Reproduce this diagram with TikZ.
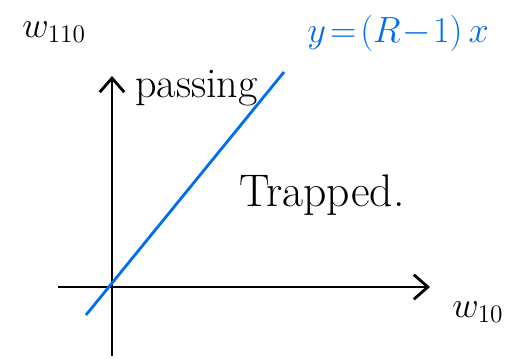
\documentclass[tikz,border=0pt]{standalone}
\usepackage{amsmath}
\usepackage{tikz}
\usetikzlibrary{arrows.meta}
\begin{document}
\begin{tikzpicture}[>={Straight Barb[length=8pt,width=14pt]}, x=0.02cm, y=-0.02cm, line width=1.6pt]
\useasboundingbox (0,0) rectangle (526,358);
\coordinate (y_top) at (112,76);
\coordinate (y_bot) at (112,356);
\coordinate (x_left) at (58,287);
\coordinate (x_right) at (430,287);
\coordinate (line_lo) at (86,315);
\coordinate (line_hi) at (284,72);
\node[name=w110, anchor=west] at (15,32) {\fontsize{22}{24}\selectfont $w_{110}$};
\node[name=line_eq, anchor=west, text={rgb,255:red,0;green,110;blue,240}] at (300,33) {\fontsize{22}{24}\selectfont $y\!=\!(R\!-\!1)\,x$};
\node[name=passing, anchor=west] at (128,88) {\fontsize{24}{26}\selectfont passing};
\node[name=trapped, anchor=west] at (232,195) {\fontsize{26}{28}\selectfont Trapped.};
\node[name=w10, anchor=west] at (445,312) {\fontsize{22}{24}\selectfont $w_{10}$};

\draw(y_bot) edge[->](y_top);
\draw(x_left) edge[->](x_right);
\draw[draw={rgb,255:red,0;green,110;blue,240}](line_lo) -- (line_hi);
\end{tikzpicture}
\end{document}
